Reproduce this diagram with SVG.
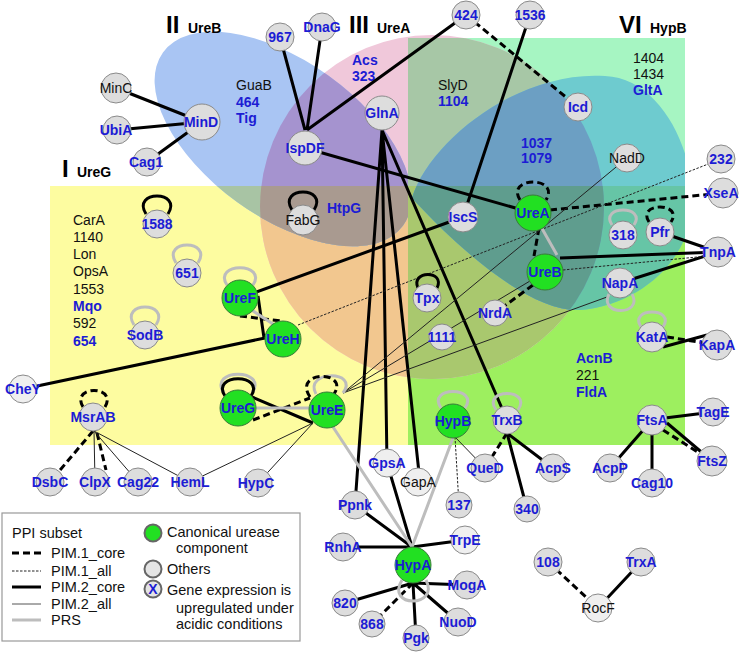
<svg xmlns="http://www.w3.org/2000/svg" width="740" height="652" viewBox="0 0 740 652">
<defs>
<style>
.g{fill:#dddddd;stroke:#8a8a8a;stroke-width:1}
.w{fill:#efefef;stroke:#8a8a8a;stroke-width:1}
.u{fill:#22e022;stroke:#3a7a3a;stroke-width:1}
.nb{font-family:"Liberation Sans",Arial,sans-serif;font-size:14px;font-weight:bold;fill:#1c1cd4;text-anchor:middle}
.nk{font-family:"Liberation Sans",Arial,sans-serif;font-size:14px;fill:#111;text-anchor:middle}
.lb{font-family:"Liberation Sans",Arial,sans-serif;font-size:14px;font-weight:bold;fill:#1c1cd4}
.lk{font-family:"Liberation Sans",Arial,sans-serif;font-size:14px;fill:#111}
.big{font-family:"Liberation Sans",Arial,sans-serif;font-size:24px;font-weight:bold;fill:#000}
.sm{font-family:"Liberation Sans",Arial,sans-serif;font-size:14px;font-weight:bold;fill:#000}
.leg{font-family:"Liberation Sans",Arial,sans-serif;font-size:14.5px;fill:#111}
.c1{stroke:#000;stroke-width:3;stroke-dasharray:7 4;fill:none}
.a1{stroke:#222;stroke-width:1;stroke-dasharray:2.5 1.5;fill:none}
.c2{stroke:#000;stroke-width:3;fill:none}
.a2{stroke:#222;stroke-width:1;fill:none}
.prs{stroke:#bdbdbd;stroke-width:3;fill:none}
</style>
<clipPath id="cY"><rect x="50" y="186" width="635" height="259"/></clipPath>
<clipPath id="cM"><rect x="408" y="38" width="277" height="407"/></clipPath>
<clipPath id="cL"><rect x="408" y="186" width="277" height="259"/></clipPath>
<clipPath id="cP"><circle cx="432" cy="207" r="172"/></clipPath>
<clipPath id="cW"><rect x="0" y="0" width="408" height="652"/></clipPath>
<path id="teal" d="M412 198C430 140 520 70 605 76C660 78 695 150 692 205C690 260 640 305 580 310C530 312 460 250 412 198Z"/>
</defs>
<rect width="740" height="652" fill="#fff"/>
<g id="regions">
<rect x="408" y="38" width="277" height="407" fill="#a6f5c2"/>
<rect x="50" y="186" width="635" height="259" fill="#fdfca0"/>
<rect x="408" y="186" width="277" height="259" fill="#9def5f"/>
<circle cx="432" cy="207" r="172" fill="#f0c8da"/>
<g clip-path="url(#cY)"><circle cx="432" cy="207" r="172" fill="#f2c78f"/></g>
<g clip-path="url(#cM)"><circle cx="432" cy="207" r="172" fill="#a7c7a6"/></g>
<g clip-path="url(#cL)"><circle cx="432" cy="207" r="172" fill="#a9c86e"/></g>
<g clip-path="url(#cW)">
<ellipse cx="283" cy="139" rx="148" ry="78" transform="rotate(35.8 283 139)" fill="#a9c5f3"/>
<g clip-path="url(#cP)"><ellipse cx="283" cy="139" rx="148" ry="78" transform="rotate(35.8 283 139)" fill="#a593cf"/></g>
<g clip-path="url(#cY)"><ellipse cx="283" cy="139" rx="148" ry="78" transform="rotate(35.8 283 139)" fill="#a8c4a4"/></g>
<g clip-path="url(#cY)"><g clip-path="url(#cP)"><ellipse cx="283" cy="139" rx="148" ry="78" transform="rotate(35.8 283 139)" fill="#a99a90"/></g></g>
</g>
<g clip-path="url(#cM)"><use href="#teal" fill="#6ecbcf"/></g>
<g clip-path="url(#cL)"><use href="#teal" fill="#66c5a6"/></g>
<g clip-path="url(#cM)"><g clip-path="url(#cP)"><use href="#teal" fill="#6c9fc3"/></g></g>
<g clip-path="url(#cL)"><g clip-path="url(#cP)"><use href="#teal" fill="#5f9d8e"/></g></g>
</g>
<g id="set-labels">
<text class="big" x="166" y="33">II</text><text class="sm" x="188" y="33">UreB</text>
<text class="big" x="349" y="33">III</text><text class="sm" x="377" y="33">UreA</text>
<text class="big" x="619" y="33">VI</text><text class="sm" x="650" y="33">HypB</text>
<text class="big" x="62" y="177">I</text><text class="sm" x="77" y="177">UreG</text>
</g>
<g id="region-lists">
<text class="lk" x="236" y="90">GuaB</text><text class="lb" x="236" y="107">464</text><text class="lb" x="236" y="123">Tig</text>
<text class="lb" x="352" y="65">Acs</text><text class="lb" x="352" y="81">323</text>
<text class="lk" x="438" y="90">SlyD</text><text class="lb" x="438" y="106">1104</text>
<text class="lk" x="633" y="63">1404</text><text class="lk" x="633" y="79">1434</text><text class="lb" x="633" y="95">GltA</text>
<text class="lb" x="521" y="148">1037</text><text class="lb" x="521" y="163">1079</text>
<text class="lb" x="327" y="213">HtpG</text>
<text class="lk" x="73" y="225">CarA</text><text class="lk" x="73" y="241.5">1140</text><text class="lk" x="73" y="259">Lon</text><text class="lk" x="73" y="276">OpsA</text><text class="lk" x="73" y="294">1553</text><text class="lb" x="73" y="311">Mqo</text><text class="lk" x="73" y="328">592</text><text class="lb" x="73" y="346">654</text>
<text class="lb" x="576" y="363">AcnB</text><text class="lk" x="576" y="380">221</text><text class="lb" x="576" y="397">FldA</text>
</g>
<g id="connectors">
<path class="c2" d="M116 88L202 122M117 130L202 122M147 162L202 122"/>
<path class="c2" d="M280 37L305 130M322 27L307 130M466 15L307 130M305 148L533 213"/>
<path class="c2" d="M530 15L463 217M463 217L240 298"/>
<path class="c2" d="M382 130L355 505M382 130L387 463M382 130L420 482M382 130L507 420"/>
<path class="c2" d="M23 389L265 338M258 296L264 338M252 397L313 423"/>
<path class="c2" d="M660 232L718 252M560 258L718 252M620 283L718 252"/>
<path class="c2" d="M663 347L707 335M665 418L713 412M667 423L712 461M652 420L610 468M652 420L652 483"/>
<path class="c2" d="M507 433L553 468M507 433L527 509M641 562L598 608"/>
<path class="c2" d="M355 505L412 547M387 463L412 547M343 547L412 547M465 540L412 547M467 585L413 583M458 622L413 583M416 638L413 583M345 603L413 583"/>
<path class="c1" d="M466 15L578 107M550 210L723 193M539 228L534 256M533 285L495 313M240 316L281 321M253 420L310 398"/>
<path class="c1" d="M93 431L50 482M97 433L106 470M667 337L717 345M663 430L712 461M507 433L485 468M548 562L598 608M413 583L372 624"/>
<path class="a1" d="M298 325L721 159M563 270L718 255M455 437L459 505"/>
<path class="a2" d="M343 393L627 158M343 393L545 272M343 393L607 297"/>
<path class="a2" d="M94 431L95 482M94 431L138 482M94 431L190 482M190 482L313 423M258 483L313 423M455 437L485 468"/>
<path class="prs" d="M250 309L273 324M256 408L309 408M333 427L412 547M453 438L412 547M540 225L557 255"/>
<g id="self-loops">
<path class="c2" d="M146 214C131 190 183 190 168 214"/>
<path class="c2" d="M292 210C277 186 329 186 314 210"/>
<path class="prs" d="M176 263C161 239 213 239 198 263"/>
<path class="prs" d="M134 325C119 301 171 301 156 325"/>
<path class="c1" d="M83 407C70 385 118 385 105 407"/>
<path class="prs" d="M227 285C212 262 268 262 253 285"/>
<path class="prs" d="M224 393C207 368 269 368 252 393"/>
<path class="c2" d="M225 396C210 373 266 373 251 396"/>
<path class="prs" d="M316 394C303 370 360 370 343 393"/>
<path class="c1" d="M310 397C292 370 350 370 334 394"/>
<path class="c1" d="M520 200C505 176 561 176 546 200"/>
<path class="prs" d="M612 225C599 205 647 205 634 225"/>
<path class="c1" d="M649 222C636 202 684 202 671 222"/>
<path class="prs" d="M609 294C598 316 644 316 632 294"/>
<path class="prs" d="M641 327C628 307 676 307 663 327"/>
<path class="c2" d="M418 288C410 270 446 270 437 288"/>
<path class="prs" d="M441 408C426 386 480 386 465 408"/>
<path class="prs" d="M496 410C481 388 533 388 518 410"/>
<path class="prs" d="M402 580C385 608 440 608 426 580"/>
</g>
</g>
<g id="n-MinC"><circle class="g" cx="116" cy="88" r="15"/><text class="nk" x="116" y="93">MinC</text></g>
<g id="n-UbiA"><circle class="g" cx="117" cy="130" r="14"/><text class="nb" x="116" y="135">UbiA</text></g>
<g id="n-MinD"><circle class="g" cx="202" cy="122" r="18"/><text class="nb" x="201" y="127">MinD</text></g>
<g id="n-Cag1"><circle class="g" cx="147" cy="162" r="14"/><text class="nb" x="146" y="167">Cag1</text></g>
<g id="n-967"><circle class="g" cx="280" cy="37" r="14"/><text class="nb" x="280" y="42">967</text></g>
<g id="n-DnaG"><circle class="g" cx="322" cy="27" r="14"/><text class="nb" x="322" y="32">DnaG</text></g>
<g id="n-424"><circle class="g" cx="466" cy="15" r="14"/><text class="nb" x="466" y="20">424</text></g>
<g id="n-1536"><circle class="g" cx="530" cy="15" r="14"/><text class="nb" x="530" y="20">1536</text></g>
<g id="n-GlnA"><circle class="g" cx="382" cy="113" r="17"/><text class="nb" x="382" y="118">GlnA</text></g>
<g id="n-IspDF"><circle class="g" cx="305" cy="148" r="17"/><text class="nb" x="305" y="153">IspDF</text></g>
<g id="n-Icd"><circle class="g" cx="578" cy="107" r="14"/><text class="nb" x="578" y="112">Icd</text></g>
<g id="n-NadD"><circle class="g" cx="627" cy="158" r="14"/><text class="nk" x="627" y="163">NadD</text></g>
<g id="n-232"><circle class="g" cx="721" cy="159" r="14"/><text class="nb" x="721" y="164">232</text></g>
<g id="n-XseA"><circle class="g" cx="723" cy="193" r="15"/><text class="nb" x="721" y="198">XseA</text></g>
<g id="n-IscS"><circle class="g" cx="463" cy="217" r="15"/><text class="nb" x="463" y="222">IscS</text></g>
<g id="n-FabG"><circle class="g" cx="303" cy="220" r="15"/><text class="nk" x="303" y="225">FabG</text></g>
<g id="n-1588"><circle class="g" cx="157" cy="224" r="14"/><text class="nb" x="157" y="229">1588</text></g>
<g id="n-651"><circle class="g" cx="187" cy="273" r="14"/><text class="nb" x="187" y="278">651</text></g>
<g id="n-SodB"><circle class="g" cx="145" cy="335" r="14"/><text class="nb" x="145" y="340">SodB</text></g>
<g id="n-UreA"><circle class="u" cx="533" cy="213" r="18"/><text class="nb" x="533" y="218">UreA</text></g>
<g id="n-318"><circle class="g" cx="623" cy="235" r="14"/><text class="nb" x="623" y="240">318</text></g>
<g id="n-Pfr"><circle class="g" cx="660" cy="232" r="14"/><text class="nb" x="660" y="237">Pfr</text></g>
<g id="n-TnpA"><circle class="g" cx="718" cy="252" r="15"/><text class="nb" x="718" y="257">TnpA</text></g>
<g id="n-UreB"><circle class="u" cx="545" cy="272" r="18"/><text class="nb" x="545" y="277">UreB</text></g>
<g id="n-NapA"><circle class="g" cx="620" cy="283" r="15"/><text class="nb" x="620" y="288">NapA</text></g>
<g id="n-NrdA"><circle class="g" cx="495" cy="313" r="13"/><text class="nb" x="495" y="318">NrdA</text></g>
<g id="n-Tpx"><circle class="g" cx="427" cy="298" r="14"/><text class="nb" x="427" y="303">Tpx</text></g>
<g id="n-1111"><circle class="g" cx="442" cy="337" r="13"/><text class="nb" x="442" y="342">1111</text></g>
<g id="n-KatA"><circle class="g" cx="652" cy="337" r="15"/><text class="nb" x="652" y="342">KatA</text></g>
<g id="n-KapA"><circle class="g" cx="717" cy="345" r="15"/><text class="nb" x="717" y="350">KapA</text></g>
<g id="n-UreF"><circle class="u" cx="240" cy="298" r="18"/><text class="nb" x="240" y="303">UreF</text></g>
<g id="n-UreH"><circle class="u" cx="283" cy="339" r="18"/><text class="nb" x="283" y="344">UreH</text></g>
<g id="n-UreG"><circle class="u" cx="238" cy="408" r="18"/><text class="nb" x="238" y="413">UreG</text></g>
<g id="n-UreE"><circle class="u" cx="327" cy="410" r="18"/><text class="nb" x="327" y="415">UreE</text></g>
<g id="n-CheY"><circle class="w" cx="23" cy="389" r="14"/><text class="nb" x="23" y="394">CheY</text></g>
<g id="n-MsrAB"><circle class="g" cx="93" cy="417" r="14"/><text class="nb" x="93" y="422">MsrAB</text></g>
<g id="n-HypB"><circle class="u" cx="453" cy="421" r="17"/><text class="nb" x="453" y="426">HypB</text></g>
<g id="n-TrxB"><circle class="g" cx="507" cy="420" r="14"/><text class="nb" x="507" y="425">TrxB</text></g>
<g id="n-FtsA"><circle class="g" cx="652" cy="420" r="15"/><text class="nb" x="652" y="425">FtsA</text></g>
<g id="n-TagE"><circle class="g" cx="713" cy="412" r="14"/><text class="nb" x="713" y="417">TagE</text></g>
<g id="n-DsbC"><circle class="g" cx="50" cy="482" r="14"/><text class="nb" x="50" y="487">DsbC</text></g>
<g id="n-ClpX"><circle class="g" cx="95" cy="482" r="14"/><text class="nb" x="95" y="487">ClpX</text></g>
<g id="n-Cag22"><circle class="g" cx="138" cy="482" r="14"/><text class="nb" x="138" y="487">Cag22</text></g>
<g id="n-HemL"><circle class="g" cx="190" cy="482" r="14"/><text class="nb" x="190" y="487">HemL</text></g>
<g id="n-HypC"><circle class="g" cx="258" cy="483" r="14"/><text class="nb" x="256" y="488">HypC</text></g>
<g id="n-GpsA"><circle class="w" cx="387" cy="463" r="14"/><text class="nb" x="387" y="468">GpsA</text></g>
<g id="n-GapA"><circle class="w" cx="418" cy="482" r="14"/><text class="nk" x="418" y="487">GapA</text></g>
<g id="n-QueD"><circle class="g" cx="485" cy="468" r="14"/><text class="nb" x="485" y="473">QueD</text></g>
<g id="n-AcpS"><circle class="g" cx="553" cy="468" r="14"/><text class="nb" x="553" y="473">AcpS</text></g>
<g id="n-AcpP"><circle class="g" cx="610" cy="468" r="14"/><text class="nb" x="610" y="473">AcpP</text></g>
<g id="n-Cag10"><circle class="g" cx="652" cy="483" r="14"/><text class="nb" x="652" y="488">Cag10</text></g>
<g id="n-FtsZ"><circle class="g" cx="712" cy="461" r="15"/><text class="nb" x="712" y="466">FtsZ</text></g>
<g id="n-Ppnk"><circle class="g" cx="355" cy="505" r="14"/><text class="nb" x="355" y="510">Ppnk</text></g>
<g id="n-137"><circle class="g" cx="459" cy="505" r="13"/><text class="nb" x="459" y="510">137</text></g>
<g id="n-340"><circle class="g" cx="527" cy="509" r="13"/><text class="nb" x="527" y="514">340</text></g>
<g id="n-RnhA"><circle class="g" cx="343" cy="547" r="14"/><text class="nb" x="343" y="552">RnhA</text></g>
<g id="n-TrpE"><circle class="w" cx="465" cy="540" r="14"/><text class="nb" x="465" y="545">TrpE</text></g>
<g id="n-HypA"><circle class="u" cx="413" cy="565" r="18"/><text class="nb" x="413" y="570">HypA</text></g>
<g id="n-MogA"><circle class="g" cx="467" cy="585" r="14"/><text class="nb" x="467" y="590">MogA</text></g>
<g id="n-820"><circle class="g" cx="345" cy="603" r="13"/><text class="nb" x="345" y="608">820</text></g>
<g id="n-868"><circle class="g" cx="372" cy="624" r="13"/><text class="nb" x="372" y="629">868</text></g>
<g id="n-NuoD"><circle class="g" cx="458" cy="622" r="14"/><text class="nb" x="458" y="627">NuoD</text></g>
<g id="n-Pgk"><circle class="g" cx="416" cy="638" r="13"/><text class="nb" x="416" y="643">Pgk</text></g>
<g id="n-108"><circle class="g" cx="548" cy="562" r="14"/><text class="nb" x="548" y="567">108</text></g>
<g id="n-TrxA"><circle class="g" cx="641" cy="562" r="14"/><text class="nb" x="641" y="567">TrxA</text></g>
<g id="n-RocF"><circle class="w" cx="598" cy="608" r="14"/><text class="nk" x="598" y="613">RocF</text></g>
<g id="legend">
<rect x="2" y="513" width="298" height="128" fill="#fff" stroke="#999" stroke-width="1.2"/>
<text class="leg" x="12" y="538">PPI subset</text>
<line class="c1" x1="12" y1="553" x2="41" y2="553"/><text class="leg" x="51" y="558">PIM.1_core</text>
<line class="a1" x1="12" y1="571" x2="41" y2="571"/><text class="leg" x="51" y="576">PIM.1_all</text>
<line class="c2" x1="12" y1="587" x2="41" y2="587"/><text class="leg" x="51" y="592">PIM.2_core</text>
<line x1="12" y1="604" x2="41" y2="604" stroke="#555" stroke-width="1"/><text class="leg" x="51" y="609">PIM.2_all</text>
<line class="prs" x1="12" y1="620" x2="41" y2="620"/><text class="leg" x="51" y="625">PRS</text>
<circle cx="153" cy="533" r="8.5" fill="#22e022" stroke="#666" stroke-width="2"/>
<text class="leg" x="167" y="537">Canonical urease</text><text class="leg" x="176" y="553">component</text>
<circle cx="153" cy="569" r="8.5" fill="#e4e4e4" stroke="#666" stroke-width="2"/>
<text class="leg" x="167" y="574">Others</text>
<circle cx="153" cy="589" r="8.5" fill="#e4e4e4" stroke="#666" stroke-width="2"/>
<text class="nb" x="153" y="594">X</text>
<text class="leg" x="167" y="595">Gene expression is</text><text class="leg" x="176" y="613">upregulated under</text><text class="leg" x="176" y="629">acidic conditions</text>
</g>
</svg>
